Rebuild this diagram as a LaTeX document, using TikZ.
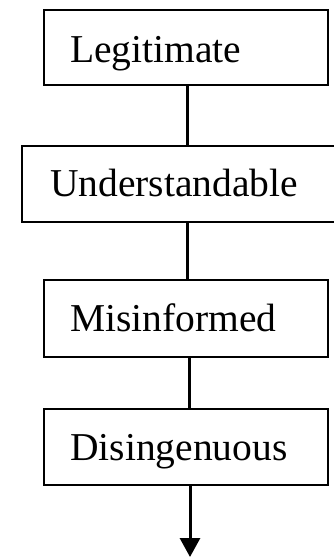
\documentclass[tikz,border=0pt]{standalone}
\usepackage{fontspec}
\setmainfont{Liberation Serif}
\usetikzlibrary{arrows.meta}
\tikzset{
  box/.style={draw, line width=2.2pt, rectangle, inner sep=0pt, anchor=north west},
  lbl/.style={anchor=base west, inner sep=0pt, font=\fontsize{39.5}{47}\selectfont},
  conn/.style={line width=3pt}
}
\begin{document}
\begin{tikzpicture}[x=1pt,y=1pt]
\useasboundingbox (0,0) rectangle (333,-557);
\node[box, minimum width=284pt, minimum height=75pt] (b1) at (43,-9) {};
\node[box, minimum width=325pt, minimum height=76pt] (b2) at (21,-145) {};
\node[box, minimum width=284pt, minimum height=77pt] (b3) at (43,-279) {};
\node[box, minimum width=284pt, minimum height=76pt] (b4) at (43,-408) {};
\node[lbl] (t1) at (70,-62) {Legitimate};
\node[lbl] (t2) at (50,-196) {Understandable};
\node[lbl] (t3) at (70,-331) {Misinformed};
\node[lbl] (t4) at (70,-460) {Disingenuous};
\coordinate (end) at (190,-557);
\draw[conn] (b1.south -| 187,0) -- (b2.north -| 187,0);
\draw[conn] (b2.south -| 187.5,0) -- (b3.north -| 187.5,0);
\draw[conn] (b3.south -| 189,0) -- (b4.north -| 189,0);
\draw[conn, -{Triangle[width=20pt,length=19pt]}] (b4.south -| end) -- (end);
\end{tikzpicture}
\end{document}
